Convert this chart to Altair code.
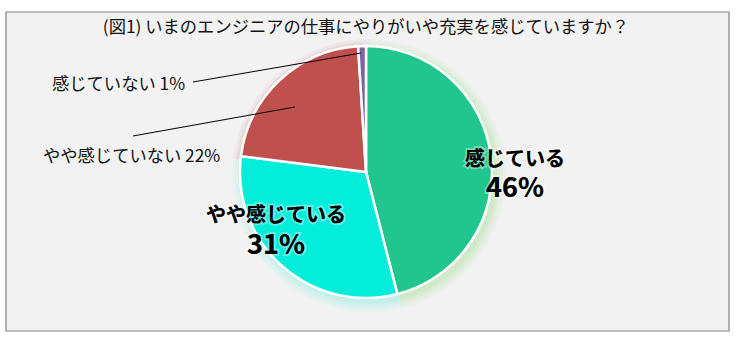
import altair as alt
import pandas as pd

# ---- data ----
categories = ["感じている", "やや感じている", "やや感じていない", "感じていない"]
values = [46, 31, 22, 1]
colors = ["#21c68f", "#03edda", "#c0504d", "#8064a2"]
glow_colors = ["#9ee08a", "#7ff0e4", "#c0504d", "#8064a2"]
title_text = "(図1) いまのエンジニアの仕事にやりがいや充実を感じていますか？"

df = pd.DataFrame({"cat": categories, "value": values, "ord": list(range(len(categories)))})
df["pct"] = df["value"].astype(str) + "%"
df["outlabel"] = df["cat"] + " " + df["pct"]

FONT = "Noto Sans CJK JP"
CX, CY, R = 366, 172, 126

base = alt.Chart(df)
color = alt.Color("cat:N", scale=alt.Scale(domain=categories, range=colors), legend=None)
gcolor = alt.Color("cat:N", scale=alt.Scale(domain=categories, range=glow_colors), legend=None)
theta = alt.Theta("value:Q", stack=True)
order = alt.Order("ord:Q")

# frame
frame = alt.Chart(pd.DataFrame({"a": [0]})).mark_rect(
    fill="#f2f2f2", stroke="#808080", strokeWidth=1.2
).encode(x=alt.value(6), x2=alt.value(729), y=alt.value(12), y2=alt.value(331))

# glow
glows = []
for r, op in [(137, 0.06), (134, 0.09), (131, 0.12), (128, 0.16)]:
    glows.append(
        base.mark_arc(radius=r, opacity=op).encode(
            theta=theta, color=gcolor, order=order,
            x=alt.value(CX + 3), y=alt.value(CY + 4)
        )
    )
glow = alt.layer(*glows)

pie = base.mark_arc(radius=R, stroke="white", strokeWidth=2.5).encode(
    theta=theta, color=color, order=order, x=alt.value(CX), y=alt.value(CY)
)

title = alt.Chart(pd.DataFrame({"t": [title_text]})).mark_text(
    font=FONT, fontSize=17.3, color="#111111"
).encode(text="t:N", x=alt.value(366), y=alt.value(28))


def big_label(cat, x, y1, y2):
    d = base.transform_filter(alt.datum.cat == cat)
    layers = []
    for field, y, size in [("cat", y1, 20), ("pct", y2, 27)]:
        layers.append(d.mark_text(font=FONT, fontSize=size, fontWeight="bold",
                                  stroke="white", strokeWidth=4, strokeOpacity=0.35,
                                  color="black").encode(
            text=f"{field}:N", x=alt.value(x), y=alt.value(y)))
        layers.append(d.mark_text(font=FONT, fontSize=size, fontWeight="bold",
                                  color="black").encode(
            text=f"{field}:N", x=alt.value(x), y=alt.value(y)))
    return layers


def out_label(cat, x, y):
    d = base.transform_filter(alt.datum.cat == cat)
    return d.mark_text(font=FONT, fontSize=17.3, align="left", color="#111111").encode(
        text="outlabel:N", x=alt.value(x), y=alt.value(y))


def leader(cat, x1, y1, x2, y2):
    d = base.transform_filter(alt.datum.cat == cat)
    return d.mark_rule(color="black", strokeWidth=1).encode(
        x=alt.value(x1), y=alt.value(y1), x2=alt.value(x2), y2=alt.value(y2))


layers = [frame, glow, pie, title]
layers += big_label("感じている", 515, 160, 189)
layers += big_label("やや感じている", 276, 216, 246)
layers += [
    out_label("感じていない", 52, 85),
    out_label("やや感じていない", 43, 157),
    leader("感じていない", 193, 82, 361, 53),
    leader("やや感じていない", 133, 136, 295, 107),
]

chart = alt.layer(*layers).resolve_scale(color="independent").properties(
    width=736, height=344,
    autosize=alt.AutoSizeParams(type="none"),
    padding=0,
    background="white",
).configure_view(stroke=None)

chart.save("out.html", embed_options={"renderer": "svg", "actions": False})
